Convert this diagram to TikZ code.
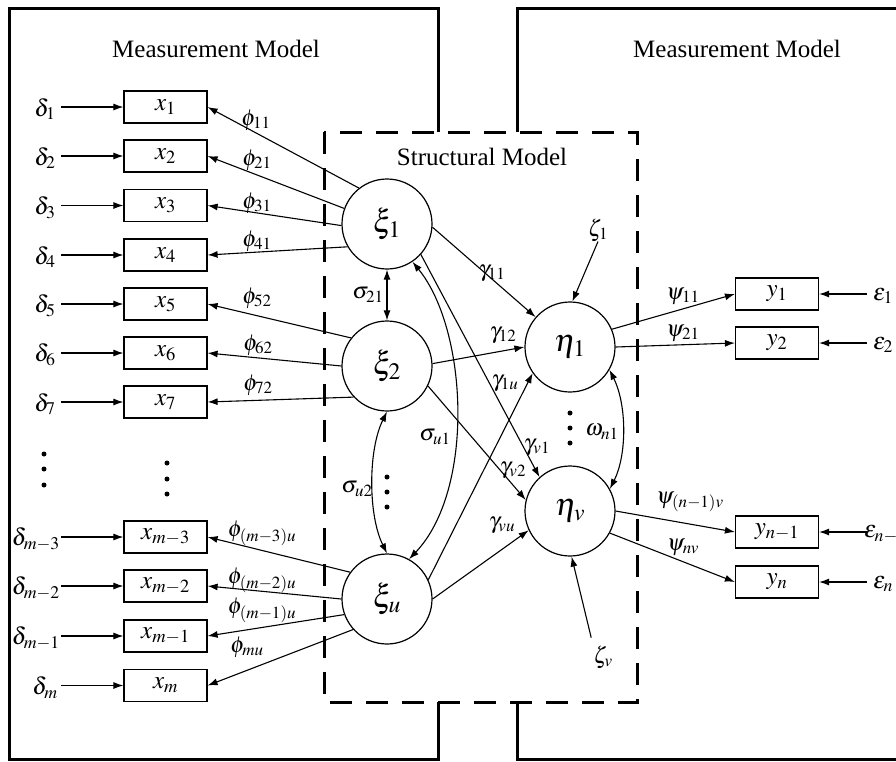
\documentclass[tikz,border=0pt]{standalone}
\usepackage{mathptmx}
\usepackage[no-math]{fontspec}
\setmainfont{Liberation Serif}
\usetikzlibrary{arrows.meta}

\begin{document}
\begin{tikzpicture}[x=1pt,y=-1pt,
  every node/.style={inner sep=0pt},
  obs/.style={draw, line width=1.2pt, minimum width=83pt, minimum height=32pt,
              font=\fontsize{25}{30}\selectfont},
  lat/.style={draw, circle, line width=1.2pt, minimum size=90pt,
              font=\fontsize{32}{38}\selectfont},
  lbl/.style={font=\fontsize{23}{28}\selectfont},
  errlbl/.style={font=\fontsize{24}{29}\selectfont},
  title/.style={font=\fontsize{25}{30}\selectfont},
  tip/.tip={Latex[length=10pt,width=7pt]},
  arr/.style={line width=1.1pt, -tip},
  darr/.style={line width=1.1pt, tip-tip},
  frame/.style={line width=3pt},
  dashframe/.style={line width=3pt, dash pattern=on 22pt off 14pt},
  dotc/.style={circle, fill, minimum size=5pt}
]
\useasboundingbox (0,0) rectangle (896,761);

% outer measurement-model frames
\draw[frame] (438,132) -- (438,8) -- (9,8) -- (9,759) -- (438,759) -- (438,702);
\draw[frame] (517,132) -- (517,8) -- (905,8);
\draw[frame] (905,759) -- (517,759) -- (517,702);
% structural-model frame
\draw[dashframe] (324,132) rectangle (637,702);

% titles
\node[title] (tleft) at (216,49) {Measurement Model};
\node[title] (tright) at (737,49) {Measurement Model};
\node[title] (tmid) at (482,157) {Structural Model};

% reference columns for the error arrows
\coordinate (lx) at (61,0);
\coordinate (rx) at (867,0);

% exogenous indicators with their errors
\foreach \id/\yy/\sub in {1/107/1, 2/156/2, 3/205.5/3, 4/255/4,
    5/304/5, 6/353/6, 7/402/7, m/685.5/m}{
  \node[obs] (x\id) at (165.5,\yy) {$x_{\sub}$};
  \node[errlbl] (d\id) at (45,\yy+2) {$\delta_{\sub}$};
  \draw[arr] (x\id -| lx) -- (x\id.west);
}
\foreach \id/\yy/\sub in {m3/537/{m-3}, m2/586/{m-2}, m1/636/{m-1}}{
  \node[obs] (x\id) at (165.5,\yy) {$x_{\sub}$};
  \node[errlbl, anchor=east] (d\id) at (60,\yy+2) {$\delta_{\sub}$};
  \draw[arr] (x\id -| lx) -- (x\id.west);
}

% vertical ellipses in the indicator columns
\foreach \yy [count=\i] in {454,469,485}{\node[dotc] (ld\i) at (44,\yy) {};}
\foreach \yy [count=\i] in {463,479,494}{\node[dotc] (md\i) at (167,\yy) {};}

% latent variables
\node[lat] (xi1) at (387,224) {$\xi_1$};
\node[lat] (xi2) at (387,366) {$\xi_2$};
\node[lat] (xiu) at (387,599) {$\xi_u$};
\node[lat] (eta1) at (570,347) {$\eta_1$};
\node[lat] (etav) at (570,511) {$\eta_v$};

% loadings of the exogenous latents
\foreach \tgt/\src/\ang/\lx/\ly/\txt in {1/xi1/128/256/120/{11}, 2/xi1/160/257/160/{21},
    3/xi1/182/257/203/{31}, 4/xi1/210/257/241/{41}, 5/xi2/142/257/298/{52},
    6/xi2/180/258/345/{62}, 7/xi2/223/258/385/{72}, m3/xiu/144/262/533/{(m-3)u},
    m2/xiu/180/262/580/{(m-2)u}, m1/xiu/200/262/610/{(m-1)u}, m/xiu/222/247/647/{mu}}{
  \draw[arr] (\src.\ang) -- (x\tgt.east);
  \node[lbl] (phi\tgt) at (\lx,\ly) {$\phi_{\txt}$};
}

% structural paths
\draw[arr] (xi1.356) -- (eta1.139);
\draw[arr] (xi2.3) -- (eta1.180);
\draw[arr] (xiu.25) -- (eta1.215);
\draw[arr] (xi1.318) -- (etav.132);
\draw[arr] (xi2.334) -- (etav.166);
\draw[arr] (xiu.0) -- (etav.205);
\node[lbl] (g11) at (492,273) {$\gamma_{11}$};
\node[lbl] (g12) at (503,335) {$\gamma_{12}$};
\node[lbl] (g1u) at (505,383) {$\gamma_{1u}$};
\node[lbl] (gv1) at (537,447) {$\gamma_{v1}$};
\node[lbl] (gv2) at (513,470) {$\gamma_{v2}$};
\node[lbl] (gvu) at (502,525) {$\gamma_{vu}$};

% covariances among the exogenous latents
\draw[darr] (xi1.south) -- (xi2.north);
\draw[darr] (xi1.304) .. controls (468,330) and (475,490) .. (xiu.61);
\draw[darr] (xi2.south) .. controls (368,450) and (368,515) .. (xiu.north);
\node[lbl] (s21) at (368,295) {$\sigma_{21}$};
\node[lbl] (su1) at (435,437) {$\sigma_{u1}$};
\node[lbl] (su2) at (357,489) {$\sigma_{u2}$};
\foreach \yy [count=\i] in {477,492,507}{\node[dotc] (sd\i) at (387,\yy) {};}

% covariance among the endogenous latents
\draw[darr] (eta1.330) .. controls (627,405) and (627,455) .. (etav.29);
\node[lbl] (wn1) at (602,432) {$\omega_{n1}$};
\foreach \yy [count=\i] in {413,428,443}{\node[dotc] (ed\i) at (570,\yy) {};}

% disturbances
\node[lbl] (z1) at (598,230) {$\zeta_1$};
\node[lbl] (zv) at (603,657) {$\zeta_v$};
\draw[arr] (z1.south) -- (eta1.87);
\draw[arr, shorten <=8pt] (zv.north west) -- (etav.272);

% endogenous indicators with their errors
\foreach \id/\yy/\sub in {1/294/1, 2/343/2, n1/532/{n-1}, n/582/n}{
  \node[obs] (y\id) at (777,\yy) {$y_{\sub}$};
  \draw[arr] (y\id -| rx) -- (y\id.east);
}
\node[errlbl] (e1) at (883,296) {$\varepsilon_1$};
\node[errlbl] (e2) at (883,345) {$\varepsilon_2$};
\node[errlbl, anchor=west] (en1) at (864,534) {$\varepsilon_{n-1}$};
\node[errlbl] (en) at (883,584) {$\varepsilon_n$};

\draw[arr] (eta1.23) -- (y1.west);
\draw[arr] (eta1.0) -- (y2.west);
\draw[arr] (etav.0) -- (yn1.west);
\draw[arr] (etav.331) -- (yn.west);
\node[lbl] (p11) at (683,296) {$\psi_{11}$};
\node[lbl] (p21) at (683,333) {$\psi_{21}$};
\node[lbl] (pn1) at (690,502) {$\psi_{(n-1)v}$};
\node[lbl] (pnv) at (683,547) {$\psi_{nv}$};
\end{tikzpicture}
\end{document}
